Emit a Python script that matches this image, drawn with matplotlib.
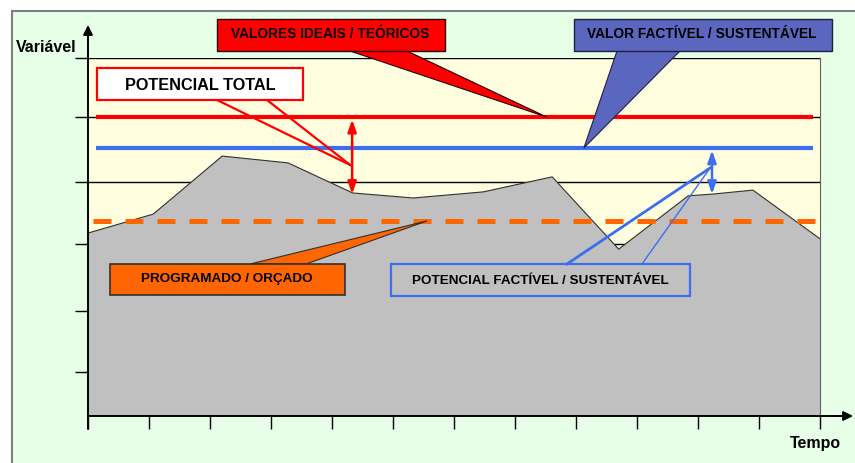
import numpy as np
from matplotlib import pyplot as plt
from matplotlib import patches
from matplotlib import transforms

# Profile of the realised variable over time (grey area)
time_pts = [0, 1.07, 2.2, 3.28, 4.34, 5.33, 6.48, 7.61, 8.7, 9.84, 10.25, 10.9, 12]
actual = [51.1, 56.4, 72.6, 70.7, 62.3, 60.9, 62.6, 66.8, 46.6, 61.5, 62.0, 63.1, 49.5]

# Reference levels
ideal_level = 83.5      # valores ideais / teóricos
feasible_level = 74.9   # valor factível / sustentável
budget_level = 54.5     # programado / orçado

x_ticks = list(range(13))
y_ticks = [12.3, 29.3, 48.0, 65.4, 83.5, 100]

labels = {
    "ideal": "VALORES IDEAIS / TEÓRICOS",
    "feasible": "VALOR FACTÍVEL / SUSTENTÁVEL",
    "total": "POTENCIAL TOTAL",
    "budget": "PROGRAMADO / ORÇADO",
    "pot_feasible": "POTENCIAL FACTÍVEL / SUSTENTÁVEL",
}

W, H = 855, 464
FONT = "Liberation Sans"

BG_GREEN = "#E6FFE6"
BG_YELLOW = "#FFFFE0"
GREY = "#C0C0C0"
RED = "#FF0000"
BLUE = "#3C6EF0"
ORANGE = "#FF6600"
SLATE = "#5B66BF"

fig = plt.figure(figsize=(W / 100, H / 100), dpi=100, facecolor="white")

# pixel coordinates, origin top-left
px = transforms.Affine2D().scale(1 / W, -1 / H).translate(0, 1) + fig.transFigure

fig.patches.append(patches.Rectangle((12, 12), W, H, transform=px, facecolor=BG_GREEN,
                                     edgecolor="#808080", linewidth=1.5, zorder=-5))

ax = fig.add_axes([88 / W, (H - 417) / H, (820 - 88) / W, (417 - 59) / H])
ax.set_facecolor(BG_YELLOW)
ax.set_xlim(0, 12)
ax.set_ylim(0, 100)
ax.set_axisbelow(True)
for side in ["left", "bottom", "top"]:
    ax.spines[side].set_visible(False)
ax.spines["right"].set_color("#606060")
ax.set_xticks(x_ticks)
ax.set_yticks(y_ticks)
ax.tick_params(axis="both", direction="out", length=9.4, width=1, color="black",
               labelbottom=False, labelleft=False)
ax.grid(axis="y", color="black", linewidth=1)

ax.fill_between(time_pts, actual, 0, facecolor=GREY, edgecolor="none", zorder=1)
ax.plot(time_pts, actual, color="#303030", linewidth=0.8, zorder=1.5)

ax.hlines(ideal_level, 0.13, 11.89, color=RED, linewidth=3.0, zorder=3)
ax.hlines(feasible_level, 0.13, 11.89, color=BLUE, linewidth=3.0, zorder=3)
ax.plot([0.08, 11.92], [budget_level, budget_level], color=ORANGE, linewidth=3.6,
        dashes=(3.6, 2.8), solid_capstyle="butt", dash_capstyle="butt", zorder=3)


def to_px(x, y):
    dx, dy = ax.transData.transform((x, y))
    return dx, H - dy


# axis arrows
ax.annotate("", xy=(88, 26), xytext=(88, 430), xycoords=px, textcoords=px,
            arrowprops=dict(arrowstyle="-|>", color="black", lw=1.4, mutation_scale=14,
                            shrinkA=0, shrinkB=0), annotation_clip=False)
ax.annotate("", xy=(853, 417), xytext=(88, 417), xycoords=px, textcoords=px,
            arrowprops=dict(arrowstyle="-|>", color="black", lw=1.4, mutation_scale=14,
                            shrinkA=0, shrinkB=0), annotation_clip=False)
fig.text(16 / W, 1 - 48 / H, "Variável", family=FONT, weight="bold", fontsize=11.5,
         ha="left", va="center")
fig.text(815 / W, 1 - 444 / H, "Tempo", family=FONT, weight="bold", fontsize=11.5,
         ha="center", va="center")


def box(x0, y0, x1, y1, face, edge, lw, text, tx, ty, size, z=6):
    fig.patches.append(patches.Rectangle((x0, y0), x1 - x0, y1 - y0, transform=px,
                                         facecolor=face, edgecolor=edge, linewidth=lw,
                                         zorder=z))
    fig.text(tx / W, 1 - ty / H, text, family=FONT, weight="bold", fontsize=size,
             ha="center", va="center", color="black", zorder=z + 1)


def wedge(pts, face, edge, lw, z=5):
    fig.patches.append(patches.Polygon(pts, closed=True, transform=px, facecolor=face,
                                       edgecolor=edge, linewidth=lw, zorder=z))


def double_arrow(x, top, bottom, color):
    ax.annotate("", xy=(x, top), xytext=(x, bottom),
                arrowprops=dict(arrowstyle="<|-|>,head_length=0.45,head_width=0.16",
                                color=color, lw=1.8, mutation_scale=16,
                                shrinkA=0, shrinkB=0), zorder=4)


# VALORES IDEAIS / TEÓRICOS
tip = to_px(7.52, ideal_level)
wedge([(350, 52), (407, 52), tip], RED, "#200000", 0.8)
box(217, 20, 445, 52, RED, "#300000", 1.0, labels["ideal"], 330, 34, 9.9)

# VALOR FACTÍVEL / SUSTENTÁVEL
tip = to_px(8.13, feasible_level)
wedge([(617, 52), (680, 52), tip], SLATE, "#202040", 0.8)
box(574, 20, 832, 52, SLATE, "#202040", 1.0, labels["feasible"], 702, 34, 9.9)

# POTENCIAL TOTAL
tip = to_px(4.3, 70.1)
for bx, lw in [(217, 1.6), (267, 1.6)]:
    fig.lines.append(plt.Line2D([bx, tip[0]], [101, tip[1]], transform=px, color=RED,
                                linewidth=lw, zorder=5))
box(97, 69, 303, 101, "white", RED, 1.6, labels["total"], 200, 86, 11.7)
double_arrow(4.33, ideal_level - 0.7, 62.0, RED)

# PROGRAMADO / ORÇADO
tip = to_px(5.56, budget_level)
wedge([(250, 265), (306, 265), tip], ORANGE, "#303030", 0.8)
box(110, 265, 345, 296, ORANGE, "#303030", 1.2, labels["budget"], 227, 279, 9.7)

# POTENCIAL FACTÍVEL / SUSTENTÁVEL
tip = to_px(10.2, 69.3)
for bx, lw in [(567, 2.0), (642, 1.0)]:
    fig.lines.append(plt.Line2D([bx, tip[0]], [265, tip[1]], transform=px, color=BLUE,
                                linewidth=lw, zorder=5))
box(391, 265, 690, 297, "none", BLUE, 1.6, labels["pot_feasible"], 540, 281, 9.7)
double_arrow(10.23, feasible_level - 0.7, 62.0, BLUE)

fig.savefig("out.png", dpi=100, facecolor="white")
